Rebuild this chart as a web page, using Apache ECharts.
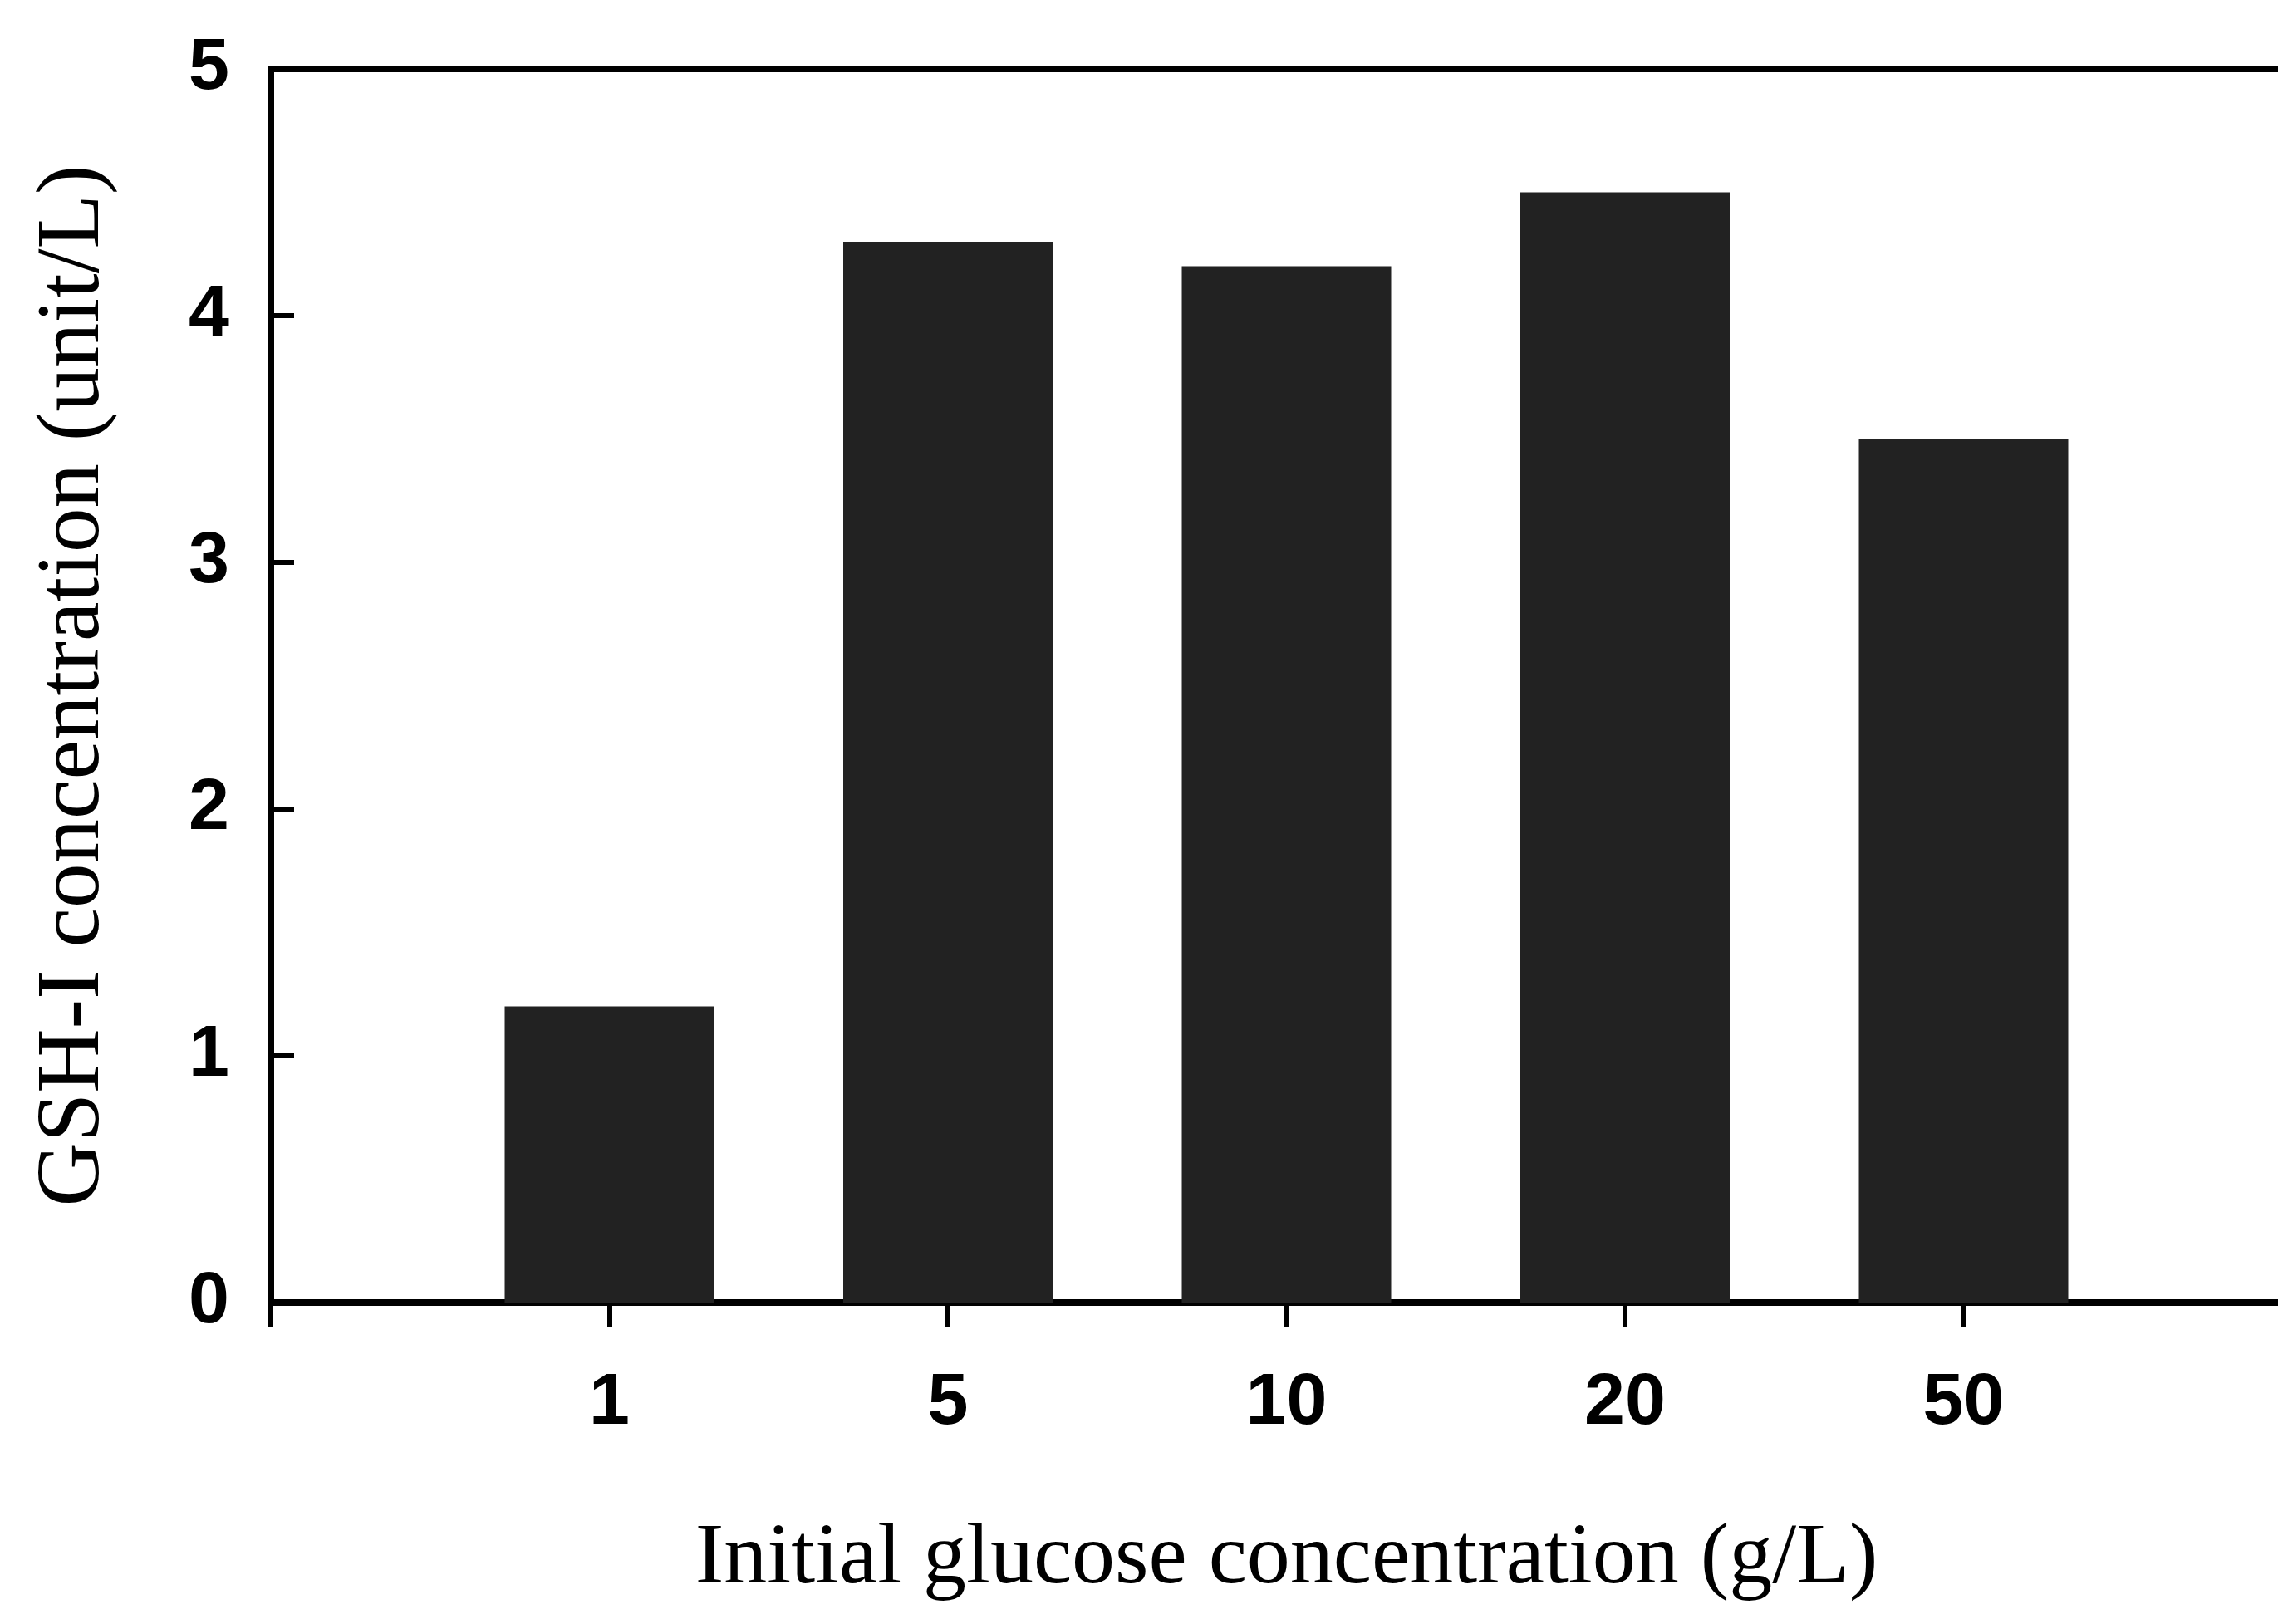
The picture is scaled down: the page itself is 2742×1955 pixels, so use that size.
<!DOCTYPE html>
<html>
<head>
<meta charset="utf-8">
<script src="https://cdn.jsdelivr.net/npm/echarts@6/dist/echarts.min.js"></script>
<style>
  html, body { margin: 0; padding: 0; background: #ffffff; }
  #chart { width: 2742px; height: 1955px; }
</style>
</head>
<body>
<div id="chart"></div>
<script>
// Initial glucose concentrations (g/L) shown on the x axis
const categories = ['1', '5', '10', '20', '50'];
// GSH-I concentration (unit/L) for each glucose level
const gshValues = [1.2, 4.3, 4.2, 4.5, 3.5];
// y-axis tick values
const yTicks = [0, 1, 2, 3, 4, 5];

const xTitle = 'Initial glucose concentration (g/L)';
const yTitle = 'GSH-I concentration (unit/L)';

// Each category sits on an integer slot 1..n of a numeric axis running 0..n+1
const barData = categories.map((c, i) => [i + 1, gshValues[i]]);
const xMax = categories.length + 1;

const tickFont = {
  fontFamily: 'Liberation Sans, Arial, sans-serif',
  fontWeight: 'bold',
  fontSize: 88,
  color: '#000'
};
const titleFont = {
  fontFamily: 'Liberation Serif, Times New Roman, serif',
  color: '#000'
};
const lineStyle = { color: '#000', width: 8 };

const chart = echarts.init(document.getElementById('chart'), null, { renderer: 'canvas' });

chart.setOption({
  backgroundColor: '#ffffff',
  animation: false,
  // the plot runs one slot past the last category, beyond the right edge of the page
  grid: {
    left: 326, width: 2445, top: 83, bottom: 387,
    containLabel: false,
    outerBoundsMode: 'none'
  },
  xAxis: [
    {
      type: 'value',
      position: 'bottom',
      min: 0,
      max: xMax,
      interval: 1,
      name: xTitle,
      nameLocation: 'middle',
      nameGap: 258,
      nameTextStyle: Object.assign({ fontSize: 104 }, titleFont),
      axisLine: { show: true, lineStyle: lineStyle },
      axisTick: { show: true, inside: false, length: 30, lineStyle: { color: '#000', width: 6 } },
      axisLabel: {
        margin: 78,
        formatter: v => (v >= 1 && v <= categories.length) ? categories[v - 1] : '',
        ...tickFont
      },
      splitLine: { show: false }
    },
    {
      // top frame line
      type: 'value',
      position: 'top',
      min: 0,
      max: xMax,
      interval: 1,
      axisLine: { show: true, lineStyle: lineStyle },
      axisTick: { show: false },
      axisLabel: { show: false },
      splitLine: { show: false }
    }
  ],
  yAxis: {
    type: 'value',
    min: yTicks[0],
    max: yTicks[yTicks.length - 1],
    interval: 1,
    name: yTitle,
    nameLocation: 'middle',
    nameGap: 183,
    nameRotate: 90,
    nameTextStyle: Object.assign({ fontSize: 107 }, titleFont),
    axisLine: { show: true, lineStyle: lineStyle },
    axisTick: { show: true, inside: true, length: 28, lineStyle: { color: '#000', width: 6 } },
    axisLabel: Object.assign({ margin: 50 }, tickFont),
    splitLine: { show: false }
  },
  series: [
    {
      type: 'bar',
      xAxisIndex: 0,
      data: barData,
      barWidth: 252,
      itemStyle: { color: '#222222' },
      z: 1
    }
  ]
});
</script>
</body>
</html>
